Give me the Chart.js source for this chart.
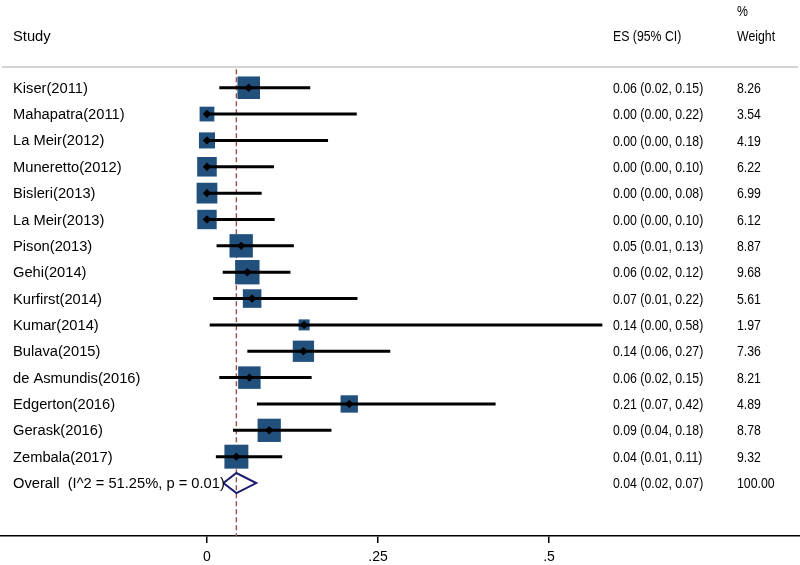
<!DOCTYPE html>
<html>
<head>
<meta charset="utf-8">
<script src="https://cdn.jsdelivr.net/npm/chart.js@4"></script>
<style>
  html, body { margin: 0; padding: 0; background: #fff; }
  canvas { display: block; }
</style>
</head>
<body>
<canvas id="forest" width="800" height="565"></canvas>
<script>
// Forest plot data
const studies = ['Kiser(2011)', 'Mahapatra(2011)', 'La Meir(2012)', 'Muneretto(2012)', 'Bisleri(2013)',
  'La Meir(2013)', 'Pison(2013)', 'Gehi(2014)', 'Kurfirst(2014)', 'Kumar(2014)', 'Bulava(2015)',
  'de Asmundis(2016)', 'Edgerton(2016)', 'Gerask(2016)', 'Zembala(2017)'];
const es      = [0.061, 0, 0, 0, 0, 0, 0.050, 0.059, 0.066, 0.142, 0.141, 0.062, 0.208, 0.091, 0.043];
const ciLow   = [0.018, 0, 0, 0, 0, 0, 0.014, 0.023, 0.009, 0.004, 0.059, 0.018, 0.073, 0.038, 0.013];
const ciHigh  = [0.151, 0.219, 0.177, 0.098, 0.080, 0.099, 0.127, 0.122, 0.220, 0.578, 0.268, 0.153, 0.422, 0.182, 0.110];
const weights = [8.26, 3.54, 4.19, 6.22, 6.99, 6.12, 8.87, 9.68, 5.61, 1.97, 7.36, 8.21, 4.89, 8.78, 9.32];

const overallLabel = 'Overall  (I^2 = 51.25%, p = 0.01)';
const overallES = 0.043;
const overallLow = 0.024;
const overallHigh = 0.072;
const overallWeight = 100;

const tickValues = [0, 0.25, 0.5];
const tickLabels = ['0', '.25', '.5'];

const overallRow = studies.length;
const fmt = v => v.toFixed(2);

// build datasets from the arrays
const squarePoints = es.map((v, i) => ({ x: v, y: i }));
const squareSizes = weights.map(w => 5.55 * Math.sqrt(w));

const ciPoints = [];
es.forEach((v, i) => {
  ciPoints.push({ x: ciLow[i], y: i });
  ciPoints.push({ x: ciHigh[i], y: i });
  ciPoints.push({ x: ciHigh[i], y: null });
});

const diamondPoints = [
  { x: overallLow, y: overallRow },
  { x: overallES, y: overallRow - 0.38 },
  { x: overallHigh, y: overallRow },
  { x: overallES, y: overallRow + 0.38 },
  { x: overallLow, y: overallRow }
];

const FONT = '"Liberation Sans", Arial, Helvetica, sans-serif';

// text columns drawn at the y positions of the scale
const textColumns = {
  id: 'textColumns',
  afterDraw(chart) {
    const ctx = chart.ctx;
    const yScale = chart.scales.y;
    const top = chart.chartArea.top;
    ctx.save();

    // header rule
    ctx.strokeStyle = '#c4c4c4';
    ctx.lineWidth = 1.5;
    ctx.beginPath();
    ctx.moveTo(2, top);
    ctx.lineTo(798, top);
    ctx.stroke();

    ctx.fillStyle = '#000';
    ctx.textBaseline = 'middle';
    ctx.textAlign = 'left';

    ctx.font = '14.7px ' + FONT;
    ctx.fillText('Study', 13, top - 30);
    studies.forEach((s, i) => ctx.fillText(s, 13, yScale.getPixelForValue(i) + 1));
    ctx.fillText(overallLabel, 13, yScale.getPixelForValue(overallRow) + 1);

    // narrower right-hand columns
    const drawNarrow = (txt, x, y) => {
      ctx.save();
      ctx.translate(x, y);
      ctx.scale(0.82, 1);
      ctx.fillText(txt, 0, 0);
      ctx.restore();
    };
    ctx.font = '15px ' + FONT;
    drawNarrow('ES (95% CI)', 613, top - 30);
    drawNarrow('%', 737, top - 55);
    drawNarrow('Weight', 737, top - 30);
    es.forEach((v, i) => {
      const y = yScale.getPixelForValue(i) + 1;
      drawNarrow(fmt(v) + ' (' + fmt(ciLow[i]) + ', ' + fmt(ciHigh[i]) + ')', 613, y);
      drawNarrow(fmt(weights[i]), 737, y);
    });
    const yo = yScale.getPixelForValue(overallRow) + 1;
    drawNarrow(fmt(overallES) + ' (' + fmt(overallLow) + ', ' + fmt(overallHigh) + ')', 613, yo);
    drawNarrow(fmt(overallWeight), 737, yo);

    ctx.restore();
  }
};

new Chart(document.getElementById('forest'), {
  type: 'scatter',
  data: {
    datasets: [
      {
        // point estimate markers
        data: squarePoints,
        pointStyle: 'rectRot',
        pointRadius: 4.2,
        backgroundColor: '#000',
        borderWidth: 0,
        order: 0
      },
      {
        // confidence intervals
        data: ciPoints,
        showLine: true,
        spanGaps: false,
        borderColor: '#000',
        borderWidth: 3,
        pointRadius: 0,
        order: 1
      },
      {
        // weight boxes
        data: squarePoints,
        pointStyle: 'rect',
        pointRadius: squareSizes,
        backgroundColor: '#22507d',
        borderWidth: 0,
        order: 2
      },
      {
        // pooled estimate diamond
        data: diamondPoints,
        showLine: true,
        borderColor: '#1c1c6e',
        borderWidth: 2,
        pointRadius: 0,
        fill: false,
        order: 3
      },
      {
        // overall effect reference line
        data: [{ x: overallES, y: -0.7 }, { x: overallES, y: 17.1 }],
        showLine: true,
        borderColor: '#9a4f4f',
        borderWidth: 1.4,
        borderDash: [5, 3],
        pointRadius: 0,
        order: 4
      }
    ]
  },
  options: {
    responsive: false,
    animation: false,
    devicePixelRatio: 1,
    layout: { autoPadding: false, padding: { top: 67, left: 0, right: 0, bottom: 0 } },
    scales: {
      x: {
        type: 'linear',
        min: -0.3026,
        max: 0.867,
        afterBuildTicks: scale => { scale.ticks = tickValues.map(v => ({ value: v })); },
        afterFit: scale => { scale.height = 29; },
        border: { display: true, color: '#000', width: 1.5 },
        grid: { display: true, drawOnChartArea: false, drawTicks: true, tickLength: 7, color: '#000', lineWidth: 1.5 },
        ticks: {
          padding: 6,
          color: '#000',
          font: { family: FONT, size: 14 },
          callback: v => tickLabels[tickValues.indexOf(v)] ?? ''
        }
      },
      y: {
        type: 'linear',
        display: false,
        reverse: true,
        min: -0.786,
        max: 17.01
      }
    },
    plugins: {
      legend: { display: false },
      tooltip: { enabled: false }
    }
  },
  plugins: [textColumns]
});
</script>
</body>
</html>
